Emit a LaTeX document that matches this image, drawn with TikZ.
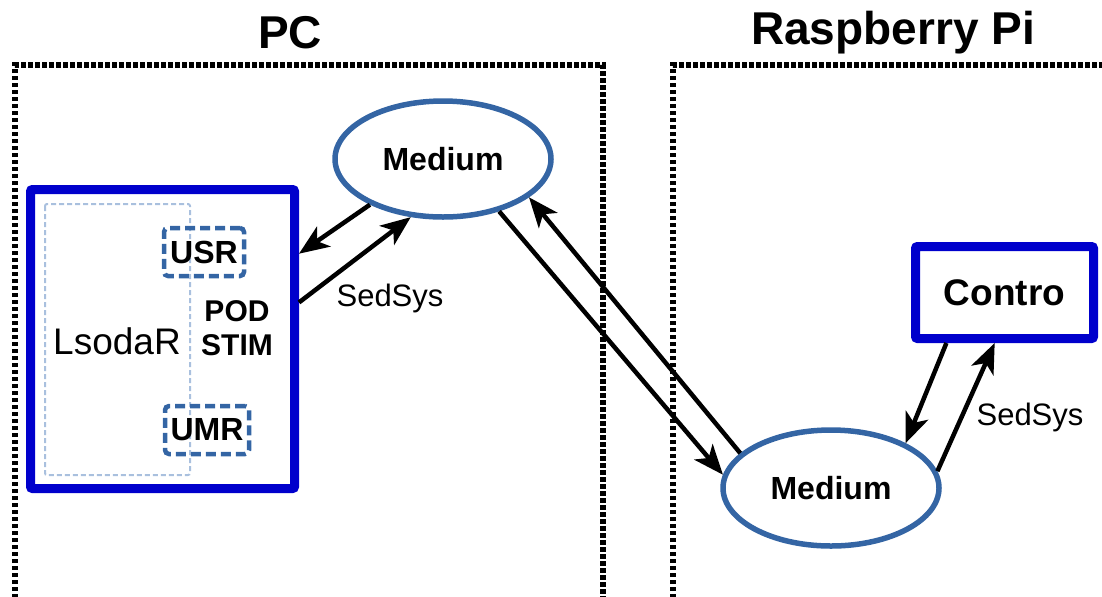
\documentclass[tikz,border=0pt]{standalone}
\usepackage{fontspec}
\setmainfont{Liberation Sans}
\usetikzlibrary{shapes.geometric,arrows.meta}
\definecolor{boxblue}{HTML}{0000CC}
\definecolor{ellblue}{HTML}{3465A4}
\definecolor{paleblue}{HTML}{A9C0DE}

\tikzset{
  zone/.style={line width=2.75pt,dash pattern=on 2.25pt off 1.25pt},
  title/.style={font=\fontsize{23}{27}\selectfont\bfseries},
  medium/.style={ellipse,draw=ellblue,line width=2.75pt,minimum width=108pt,minimum height=58pt,inner sep=0pt,font=\fontsize{16}{19}\selectfont\bfseries},
  unit/.style={draw=boxblue,line width=4.5pt,rounded corners=1pt,inner sep=0pt},
  part/.style={draw=ellblue,line width=2.25pt,dash pattern=on 5pt off 2.5pt,rounded corners=2pt,inner sep=0pt,font=\fontsize{16}{19}\selectfont\bfseries},
  link/.style={line width=2.25pt,-{Stealth[length=15pt,width=12pt,inset=4pt]}},
  lbl/.style={font=\fontsize{15.5}{18}\selectfont},
}

\begin{document}
\begin{tikzpicture}[x=0.5pt,y=-0.5pt]
\clip (0,0) rectangle (1102,596);

\draw[zone] (15,640) -- (15,65) -- (603,65) -- (603,640);
\draw[zone] (673,640) -- (673,65) -- (1140,65);
\node[title] (pc) at (290,33) {PC};
\node[title] (rpi) at (893,33) {Raspberry Pi};

\node[unit,minimum width=132pt,minimum height=149.5pt] (lsoda) at (162.5,339) {};
\draw[paleblue,line width=1pt,dash pattern=on 2.5pt off 1.5pt,rounded corners=1pt] (45,204) rectangle (190,475);
\node[part,minimum width=40pt,minimum height=24pt] (usr) at (204,252) {USR};
\node[part,minimum width=42pt,minimum height=24pt] (umr) at (207,430) {UMR};
\node[font=\fontsize{18.5}{22}\selectfont] (lsodar) at (117,341) {LsodaR};
\node[align=center,font=\fontsize{15}{17}\selectfont\bfseries] (podstim) at (237,328) {POD\\STIM};

\node[medium] (med1) at (443,159) {Medium};
\node[medium] (med2) at (831,488) {Medium};
\node[unit,minimum width=89pt,minimum height=46pt,font=\fontsize{18.5}{22}\selectfont\bfseries] (contro) at (1004.5,292.5) {Contro};

\draw[link] (med1.212) -- (lsoda.32);
\draw[link] (lsoda.15) -- (med1.241);
\node[lbl] (sed1) at (390,298) {SedSys};
\draw[link] (med1.317) -- (med2.173);
\draw[link] (med2.159) -- (med1.336);
\draw[link] (contro.221) -- (med2.31);
\draw[link] (med2.9) -- (contro.259);
\node[lbl] (sed2) at (1030,417) {SedSys};
\end{tikzpicture}
\end{document}
